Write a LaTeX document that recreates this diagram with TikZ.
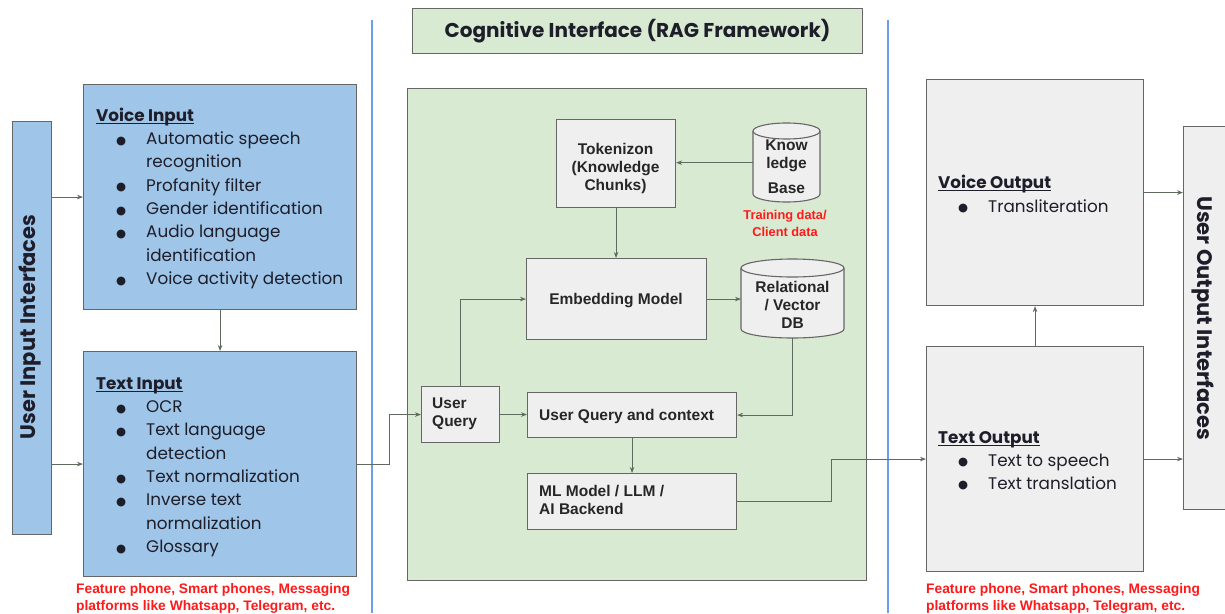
\documentclass[tikz,border=0pt]{standalone}
\usepackage{fontspec}
\setmainfont{Poppins}
\newfontfamily\arialf{Liberation Sans}
\newfontfamily\dejavuf{DejaVu Sans}
\usetikzlibrary{arrows.meta}
\definecolor{bluefill}{HTML}{9FC5E8}
\definecolor{greenfill}{HTML}{D9EAD3}
\definecolor{grayfill}{HTML}{EFEFEF}
\definecolor{edgec}{HTML}{666666}
\definecolor{sepblue}{HTML}{6D9EEB}
\definecolor{redtxt}{HTML}{FF1A1A}
\definecolor{connc}{HTML}{5E6B5E}
\definecolor{txtc}{HTML}{1E1E2A}
\newcommand\bitem{\makebox[50pt][l]{\hspace*{20pt}\raisebox{0.3pt}{\dejavuf\fontsize{11.5}{12}\selectfont ●}}}
\newcommand\bcont{\hspace*{50pt}}
\newcommand\firstln{\rule{0pt}{14pt}}
\newcommand\ulhead[1]{\setbox0\hbox{\bfseries #1}\rlap{\rule[-2.8pt]{\wd0}{1.1pt}}\box0}
\begin{document}
\begin{tikzpicture}[x=1pt,y=-1pt,
 box/.style={draw=edgec, line width=1.1pt, inner sep=0pt, anchor=north west},
 bluebox/.style={box, fill=bluefill},
 greenbox/.style={box, fill=greenfill},
 graybox/.style={box, fill=grayfill},
 listtxt/.style={anchor=north west, align=left, inner sep=0pt, text=txtc, font=\fontsize{16.8}{23.3}\selectfont},
 sidetxt/.style={inner sep=0pt, text=txtc, font=\bfseries\fontsize{21}{24}\selectfont},
 armtxt/.style={inner sep=0pt, align=center, text=black!85, font=\arialf\bfseries\fontsize{15.5}{18}\selectfont},
 redcap/.style={inner sep=0pt, text=redtxt, font=\arialf\bfseries\fontsize{13.8}{16.7}\selectfont},
 arr/.style={draw=connc, line width=0.9pt, -{Stealth[length=6pt,width=4.5pt]}},
 cyl/.style={draw=edgec, line width=1.1pt, fill=grayfill},
 sepline/.style={draw=sepblue, line width=1.6pt}]

\clip (0,0) rectangle (1225,613);
\fill[white] (0,0) rectangle (1225,613);

% separators
\draw[sepline] (372,20) -- (372,613);
\draw[sepline] (888,20) -- (888,613);

% ---------- left ----------
\node[bluebox, minimum width=39pt, minimum height=413pt] (uii) at (12,121) {};
\node[sidetxt, rotate=90] (uiitxt) at (30,327) {User Input Interfaces};

\node[bluebox, minimum width=273pt, minimum height=225pt] (voice) at (83,84) {};
\node[listtxt] (voicetxt) at (96,107) {\firstln\ulhead{Voice Input}\\
 \bitem Automatic speech\\
 \bcont recognition\\
 \bitem Profanity filter\\
 \bitem Gender identification\\
 \bitem Audio language\\
 \bcont identification\\
 \bitem Voice activity detection};

\node[bluebox, minimum width=273pt, minimum height=225pt] (textin) at (83,351) {};
\node[listtxt] (textintxt) at (96,375) {\firstln\ulhead{Text Input}\\
 \bitem OCR\\
 \bitem Text language\\
 \bcont detection\\
 \bitem Text normalization\\
 \bitem Inverse text\\
 \bcont normalization\\
 \bitem Glossary};

\node[redcap, anchor=north west, align=left] (capl) at (76,583.5) {Feature phone, Smart phones, Messaging\\platforms like Whatsapp, Telegram, etc.};

% ---------- middle ----------
\node[greenbox, minimum width=450pt, minimum height=45pt, text=txtc, font=\bfseries\fontsize{20}{24}\selectfont] (title) at (412,8) {Cognitive Interface (RAG Framework)};
\node[greenbox, minimum width=459pt, minimum height=492pt] (rag) at (407,88) {};

\node[graybox, minimum width=119pt, minimum height=88pt] (tok) at (556,119) {};
\node[armtxt] (toktxt) at (615.5,168.5) {Tokenizon\\(Knowledge\\Chunks)};

\node[inner sep=0pt, minimum width=67pt, minimum height=79pt, anchor=north west] (kb) at (753,123) {};
\draw[cyl] (753,131) -- (753,194) arc[start angle=180, end angle=0, x radius=33.5, y radius=8] -- (820,131);
\draw[cyl] (786.5,131) ellipse[x radius=33.5, y radius=8];
\node[armtxt] (kbtxt) at (786.5,167) {Know\\ledge\\[7pt]Base};
\node[redcap, align=center, font=\arialf\bfseries\fontsize{12.8}{17}\selectfont] (kbcap) at (785,223.5) {Training data/\\Client data};

\node[graybox, minimum width=180pt, minimum height=81pt] (emb) at (526,258) {};
\node[armtxt] (embtxt) at (616,301) {Embedding Model};

\node[inner sep=0pt, minimum width=103pt, minimum height=79pt, anchor=north west] (dbn) at (741,259) {};
\draw[cyl] (741,268) -- (741,329) arc[start angle=180, end angle=0, x radius=51.5, y radius=9] -- (844,268);
\draw[cyl] (792.5,268) ellipse[x radius=51.5, y radius=9];
\node[armtxt] (dbtxt) at (792.5,305) {Relational\\/ Vector\\DB};

\node[graybox, minimum width=78pt, minimum height=56pt] (uq) at (421,386) {};
\node[armtxt, align=left, anchor=west] (uqtxt) at (432,414) {User\\Query};

\node[graybox, minimum width=209pt, minimum height=45pt] (uqc) at (527,392) {};
\node[armtxt, align=left, anchor=west] (uqctxt) at (539,416) {User Query and context};

\node[graybox, minimum width=209pt, minimum height=56pt] (ml) at (527,473) {};
\node[armtxt, align=left, anchor=west] (mltxt) at (539,500) {ML Model / LLM /\\AI Backend};

% ---------- right ----------
\node[graybox, minimum width=217pt, minimum height=226pt] (vout) at (926,79) {};
\node[listtxt, font=\fontsize{16.8}{24}\selectfont] (vouttxt) at (938,174) {\firstln\ulhead{Voice Output}\\
 \bitem Transliteration};

\node[graybox, minimum width=217pt, minimum height=225pt] (tout) at (926,346) {};
\node[listtxt, font=\fontsize{16.8}{23}\selectfont] (touttxt) at (938,429) {\firstln\ulhead{Text Output}\\
 \bitem Text to speech\\
 \bitem Text translation};

\node[graybox, minimum width=60pt, minimum height=383pt] (uoi) at (1183,126) {};
\node[sidetxt, rotate=-90] (uoitxt) at (1203,318) {User Output Interfaces};

\node[redcap, anchor=north west, align=left] (capr) at (926,583.5) {Feature phone, Smart phones, Messaging\\platforms like Whatsapp, Telegram, etc.};

% ---------- connectors ----------
\draw[arr] (uii.east |- voice.west) -- (voice.west);
\draw[arr] (uii.east |- textin.west) -- (textin.west);
\draw[arr] (voice.south) -- (textin.north);
\draw[arr] (textin.east) -- ++(32,0) |- (uq.west);
\draw[arr] (uq.north) |- (emb.west);
\draw[arr] (uq.east) -- (uq.east -| uqc.west);
\draw[arr] (dbn.south) |- (uqc.east);
\draw[arr] (uqc.south) -- (ml.north);
\draw[arr] (ml.east) -- ++(94,0) |- (tout.west);
\draw[arr] (kb.west) -- (kb.west -| tok.east);
\draw[arr] (tok.south) -- (tok.south |- emb.north);
\draw[arr] (emb.east) -- (emb.east -| dbn.west);
\draw[arr] (tout.north) -- (vout.south);
\draw[arr] (vout.east) -- (vout.east -| uoi.west);
\draw[arr] (tout.east) -- (tout.east -| uoi.west);
\end{tikzpicture}
\end{document}
